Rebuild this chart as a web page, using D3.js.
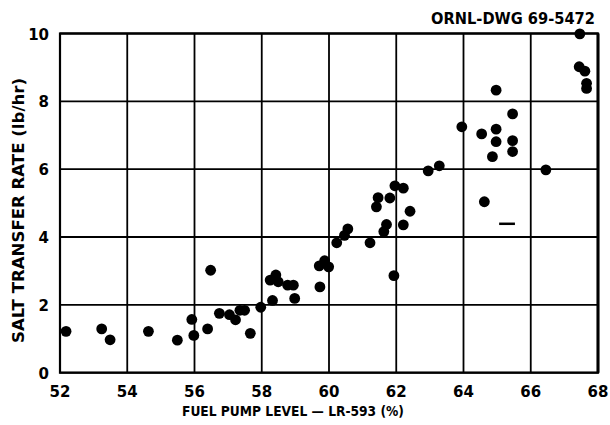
<!DOCTYPE html>
<html>
<head>
<meta charset="utf-8">
<script src="https://cdn.jsdelivr.net/npm/d3@7"></script>
<style>
  body { margin: 0; background: #fff; }
  text { font-family: "DejaVu Sans", sans-serif; fill: #000; }
</style>
</head>
<body>
<svg id="chart" width="610" height="425"></svg>
<script>
// pump level (%) and salt transfer rate (lb/hr)
const pumpLevel = [52.18, 53.24, 53.49, 54.63, 55.49, 55.92, 55.98, 56.39, 56.48, 56.74,
  57.04, 57.22, 57.35, 57.49, 57.66, 57.97, 58.25, 58.42, 58.49, 58.32,
  58.77, 58.94, 58.98, 59.73, 59.71, 59.87, 59.99, 60.23, 60.46, 60.56,
  61.22, 61.41, 61.46, 61.81, 61.96, 62.21, 61.71, 61.63, 61.93, 62.21,
  62.41, 62.95, 63.28, 63.95, 64.54, 64.97, 64.97, 64.97, 65.46, 65.46,
  65.46, 64.86, 64.62, 66.45, 67.46, 67.44, 67.61, 67.66, 67.66];
const saltRate = [1.22, 1.29, 0.97, 1.22, 0.96, 1.57, 1.10, 1.29, 3.02, 1.75,
  1.71, 1.56, 1.84, 1.84, 1.16, 1.93, 2.73, 2.88, 2.68, 2.13,
  2.58, 2.58, 2.19, 2.53, 3.15, 3.30, 3.12, 3.83, 4.05, 4.24,
  3.83, 4.89, 5.16, 5.15, 5.51, 5.44, 4.37, 4.16, 2.86, 4.36,
  4.76, 5.95, 6.10, 7.25, 7.04, 8.33, 7.18, 6.81, 7.63, 6.84,
  6.52, 6.37, 5.04, 5.98, 9.99, 9.02, 8.89, 8.53, 8.38];
// short dash near 65%
const dashX = [65.06, 65.53];
const dashY = [4.39, 4.39];

const xTicks = [52, 54, 56, 58, 60, 62, 64, 66, 68];
const yTicks = [0, 2, 4, 6, 8, 10];

const svg = d3.select("#chart");
const plotLeft = 60, plotRight = 598, plotTop = 33.5, plotBottom = 372.7;

const x = d3.scaleLinear().domain([52, 68]).range([plotLeft, plotRight]);
const y = d3.scaleLinear().domain([0, 10]).range([plotBottom, plotTop]);

// grid
svg.append("g").selectAll("line")
  .data(xTicks)
  .enter()
  .append("line")
  .attr("x1", d => x(d)).attr("x2", d => x(d))
  .attr("y1", plotTop).attr("y2", plotBottom)
  .attr("stroke", "#000").attr("stroke-width", 1.8);

svg.append("g").selectAll("line")
  .data(yTicks)
  .enter()
  .append("line")
  .attr("x1", plotLeft).attr("x2", plotRight)
  .attr("y1", d => y(d)).attr("y2", d => y(d))
  .attr("stroke", "#000").attr("stroke-width", 1.8);

svg.append("rect")
  .attr("x", plotLeft).attr("y", plotTop)
  .attr("width", plotRight - plotLeft).attr("height", plotBottom - plotTop)
  .attr("fill", "none").attr("stroke", "#000").attr("stroke-width", 2.2);

// right edge is drawn heavier
svg.append("line")
  .attr("x1", plotRight).attr("x2", plotRight)
  .attr("y1", plotTop).attr("y2", plotBottom)
  .attr("stroke", "#000").attr("stroke-width", 3);

// tick labels
svg.append("g").selectAll("text")
  .data(xTicks)
  .enter()
  .append("text")
  .attr("x", d => x(d))
  .attr("y", 397)
  .attr("text-anchor", "middle")
  .attr("font-size", 15)
  .attr("font-weight", "bold")
  .text(d => d);

svg.append("g").selectAll("text")
  .data(yTicks)
  .enter()
  .append("text")
  .attr("x", 49)
  .attr("y", d => y(d) + 6)
  .attr("text-anchor", "end")
  .attr("font-size", 15)
  .attr("font-weight", "bold")
  .text(d => d);

// points
svg.append("g").selectAll("circle")
  .data(pumpLevel)
  .enter()
  .append("circle")
  .attr("cx", d => x(d))
  .attr("cy", (d, i) => y(saltRate[i]))
  .attr("r", 5.4)
  .attr("fill", "#000");

svg.append("line")
  .attr("x1", x(dashX[0])).attr("x2", x(dashX[1]))
  .attr("y1", y(dashY[0])).attr("y2", y(dashY[1]))
  .attr("stroke", "#000").attr("stroke-width", 2.5);

// labels
svg.append("text")
  .attr("x", 431).attr("y", 24)
  .attr("font-size", 15)
  .attr("font-weight", "bold")
  .attr("textLength", 164)
  .attr("lengthAdjust", "spacingAndGlyphs")
  .text("ORNL-DWG 69-5472");

svg.append("text")
  .attr("x", 182).attr("y", 416)
  .attr("font-size", 14)
  .attr("font-weight", "bold")
  .attr("textLength", 222)
  .attr("lengthAdjust", "spacingAndGlyphs")
  .text("FUEL PUMP LEVEL — LR-593 (%)");

svg.append("text")
  .attr("transform", "translate(24,343) rotate(-90)")
  .attr("font-size", 15)
  .attr("font-weight", "bold")
  .attr("textLength", 265)
  .attr("lengthAdjust", "spacingAndGlyphs")
  .text("SALT TRANSFER RATE (lb/hr)");
</script>
</body>
</html>
